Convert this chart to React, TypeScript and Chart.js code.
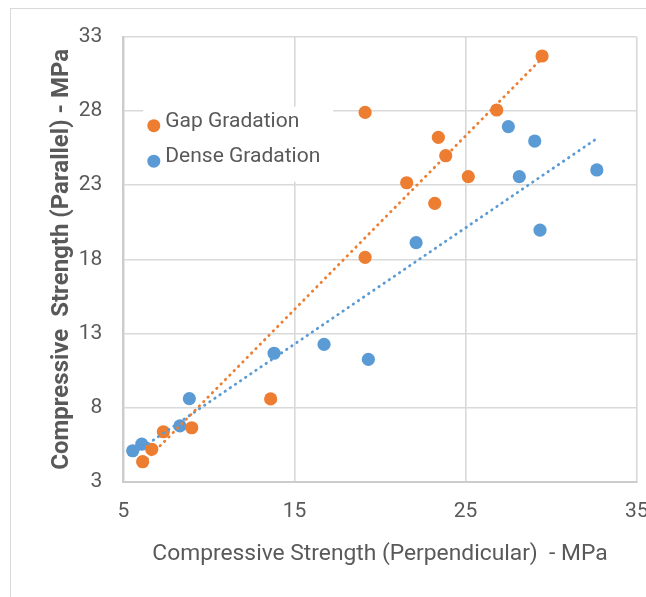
import React, { useEffect, useRef } from "react";
import { Chart, registerables } from "chart.js";

Chart.register(...registerables);

// ---- data ----
const seriesNames = ["Gap Gradation", "Dense Gradation"];
const gapX = [29.47, 19.13, 26.82, 23.41, 23.84, 21.56, 25.16, 23.2, 19.13, 13.61, 9.0, 7.34, 6.66, 6.13];
const gapY = [31.7, 27.9, 28.06, 26.22, 24.98, 23.16, 23.57, 21.77, 18.13, 8.59, 6.65, 6.38, 5.2, 4.36];
const denseX = [27.5, 29.04, 28.14, 32.67, 29.35, 22.11, 16.73, 19.32, 13.81, 8.86, 8.31, 6.08, 5.55];
const denseY = [26.94, 25.97, 23.57, 24.02, 19.97, 19.12, 12.27, 11.26, 11.67, 8.61, 6.77, 5.55, 5.1];
const xTitle = "Compressive Strength (Perpendicular)  - MPa";
const yTitle = "Compressive  Strength (Parallel) - MPa";
const xRange = [5, 35];
const xStep = 10;
const yRange = [3, 33];
const yStep = 5;

const ORANGE = "#ED7D31";
const BLUE = "#5B9BD5";
const TEXT = "#595959";
const GRID = "#d9d9d9";
const FONT = "Roboto";

function toPoints(xs: number[], ys: number[]) {
  return xs.map((x, i) => ({ x, y: ys[i] }));
}

// least-squares linear trend line (as Excel's linear trendline), spanning the data's x range
function trend(xs: number[], ys: number[]) {
  const n = xs.length;
  const mx = xs.reduce((a, b) => a + b, 0) / n;
  const my = ys.reduce((a, b) => a + b, 0) / n;
  let sxy = 0;
  let sxx = 0;
  for (let i = 0; i < n; i++) {
    sxy += (xs[i] - mx) * (ys[i] - my);
    sxx += (xs[i] - mx) * (xs[i] - mx);
  }
  const b = sxy / sxx;
  const a = my - b * mx;
  const lo = Math.min(...xs);
  const hi = Math.max(...xs);
  return [
    { x: lo, y: a + b * lo },
    { x: hi, y: a + b * hi },
  ];
}

const insideLegend = {
  id: "insideLegend",
  beforeDatasetsDraw(chart: any) {
    const { ctx, chartArea } = chart;
    const left = chartArea.left + 20;
    const top = chartArea.top + 70;
    ctx.save();
    ctx.fillStyle = "#ffffff";
    ctx.fillRect(left, top, 190, 75);
    const colors = [ORANGE, BLUE];
    seriesNames.forEach((name, i) => {
      const cy = top + 15 + i * 35.5;
      ctx.beginPath();
      ctx.fillStyle = colors[i];
      ctx.arc(left + 10.5, cy + 4, 6.5, 0, Math.PI * 2);
      ctx.fill();
      ctx.fillStyle = TEXT;
      ctx.font = `21px ${FONT}`;
      ctx.textBaseline = "middle";
      ctx.textAlign = "left";
      ctx.fillText(name, left + 22, cy);
    });
    ctx.restore();
  },
};

export default function App() {
  const ref = useRef<HTMLCanvasElement | null>(null);

  useEffect(() => {
    if (!ref.current) return;
    const chart = new Chart(ref.current, {
      type: "scatter",
      data: {
        datasets: [
          {
            label: seriesNames[0] + " trend",
            data: trend(gapX, gapY),
            showLine: true,
            borderColor: ORANGE,
            borderWidth: 2.8,
            borderDash: [0.5, 5.7],
            borderCapStyle: "round",
            pointRadius: 0,
            order: 0,
          } as any,
          {
            label: seriesNames[1] + " trend",
            data: trend(denseX, denseY),
            showLine: true,
            borderColor: BLUE,
            borderWidth: 2.8,
            borderDash: [0.5, 5.7],
            borderCapStyle: "round",
            pointRadius: 0,
            order: 0,
          } as any,
          {
            label: seriesNames[0],
            data: toPoints(gapX, gapY),
            backgroundColor: ORANGE,
            borderColor: ORANGE,
            pointRadius: 6.6,
            borderWidth: 0,
            order: 1,
          },
          {
            label: seriesNames[1],
            data: toPoints(denseX, denseY),
            backgroundColor: BLUE,
            borderColor: BLUE,
            pointRadius: 6.6,
            borderWidth: 0,
            order: 2,
          },
        ],
      },
      options: {
        responsive: false,
        animation: false,
        devicePixelRatio: 1,
        layout: { padding: { left: 44, right: 9.3, top: 36.7, bottom: 20 } },
        plugins: {
          legend: { display: false },
          tooltip: { enabled: false },
        },
        scales: {
          x: {
            type: "linear",
            min: xRange[0],
            max: xRange[1],
            ticks: {
              stepSize: xStep,
              color: TEXT,
              font: { family: FONT, size: 21 },
              padding: 17,
            },
            grid: { color: GRID, lineWidth: 1.6, drawTicks: false },
            border: { color: "#cccccc", width: 2 },
            title: {
              display: true,
              text: xTitle,
              color: TEXT,
              font: { family: FONT, size: 22.8 },
              padding: { top: 0, bottom: 9.5 },
            },
            afterFit: (s: any) => {
              s.height = 597 - 481.9 - 20;
              s.paddingLeft = 0;
              s.paddingRight = 0;
            },
          },
          y: {
            type: "linear",
            min: yRange[0],
            max: yRange[1],
            ticks: {
              stepSize: yStep,
              color: TEXT,
              font: { family: FONT, size: 21 },
              padding: 21,
            },
            grid: { color: GRID, lineWidth: 1.6, drawTicks: false },
            border: { color: "#cccccc", width: 2 },
            title: {
              display: true,
              text: yTitle,
              color: TEXT,
              font: { family: FONT, size: 24, weight: "bold" },
              padding: { top: 3.6, bottom: 0 },
            },
            afterFit: (s: any) => {
              s.width = 123.3 - 44;
              s.paddingTop = 0;
              s.paddingBottom = 0;
            },
          },
        },
      },
      plugins: [insideLegend],
    });
    return () => chart.destroy();
  }, []);

  return (
    <div
      style={{
        position: "fixed",
        left: 0,
        top: 0,
        width: 646,
        height: 597,
        overflow: "hidden",
        background: "#ffffff",
      }}
    >
      <div
        style={{
          position: "absolute",
          left: 10,
          top: 8,
          width: 700,
          height: 700,
          border: "1px solid #d9d9d9",
        }}
      />
      <canvas
        ref={ref}
        width={646}
        height={597}
        style={{ position: "absolute", left: 0, top: 0, width: 646, height: 597 }}
      />
    </div>
  );
}
